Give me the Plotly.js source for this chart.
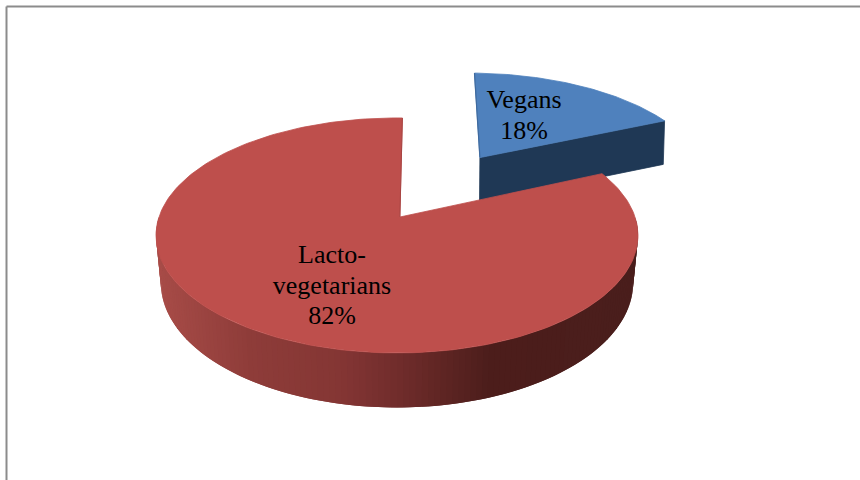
<!DOCTYPE html>
<html>
<head>
<meta charset="utf-8">
<script src="https://cdn.plot.ly/plotly-3.0.1.min.js"></script>
<style>html,body{margin:0;padding:0;background:#fff}#c{width:860px;height:480px}</style>
</head>
<body>
<div id="c"></div>
<script>
// Data
const categories = ["Vegans", "Lacto-vegetarians"];
const shares = [18, 82];
const labelLines = [["Vegans","18%"],["Lacto-","vegetarians","82%"]];
const explodeVegans = 0.68;
// Styles
const topColors = ["#4F81BD", "#BE4F4C"];
const veganSide = "#1F3855";
const redStops = [[155,"#A84C48"],[250,"#8E3C39"],[340,"#843634"],[400,"#702C2B"],[490,"#4C1D1B"],[640,"#4A1E1C"]];

// Perspective projection of the tilted pie disc to the chart axes
const X0=397, Y0=217, R=238, K=114.6, P=0.157, D=46, LOW=0.98, ROT=1.5*Math.PI/180, APEX=0.012;
const proj=(x,y,low,ls,ds)=>{const w=1-P*y;return [X0+(low?(ls||LOW):1)*R*x/w, Y0+K*y/w+(low?(ds||1)*D/w:0)];};
const rim=(a,ox,oy)=>[ox+Math.sin(a+ROT),oy-Math.cos(a+ROT)];
const total=shares.reduce((s,v)=>s+v,0);
const endVegan=2*Math.PI*shares[0]/total;
const midVegan=endVegan/2+ROT;
const ox=explodeVegans*Math.sin(midVegan), oy=-explodeVegans*Math.cos(midVegan);
const n=140;
const range=(a,b,m)=>Array.from({length:m+1},(_,i)=>a+(b-a)*i/m);
const poly=(pts,color,stroke)=>({type:"scatter",mode:stroke===false?"none":"lines",x:pts.map(p=>p[0]),y:pts.map(p=>p[1]),fill:"toself",fillcolor:color,
  line:{color:color,width:0.8},hoverinfo:"skip",showlegend:false});
const edge=(p,q,color,w)=>({type:"scatter",mode:"lines",x:[p[0],q[0]],y:[p[1],q[1]],line:{color:color,width:w},hoverinfo:"skip",showlegend:false});
const hex=c=>[1,3,5].map(i=>parseInt(c.substr(i,2),16));
const colorAt=x=>{for(let i=0;i<redStops.length-1;i++){const [a,ca]=redStops[i],[b,cb]=redStops[i+1];
  if(x<=b){const t=Math.max(0,(x-a)/(b-a)),A=hex(ca),B=hex(cb);return `rgb(${A.map((v,j)=>Math.round(v+(B[j]-v)*t)).join(",")})`;}}
  return redStops[redStops.length-1][1];};

const traces=[];
// Vegans: radial wall facing the viewer, then the top face
const vA=proj(ox,oy,false), vB=proj(...rim(endVegan,ox,oy),false), vA2=proj(ox,oy,true,0.995,1.05), vB2=proj(...rim(endVegan,ox,oy),true,0.995,1.09);
traces.push(poly([vA,vB,vB2,vA2,vA],veganSide));
const vTop=[vA].concat(range(0,endVegan,60).map(a=>proj(...rim(a,ox,oy),false)),[vA]);
traces.push(poly(vTop,topColors[0]));
traces.push(edge(vA,proj(...rim(0,ox,oy),false),"#3F6A9E",1.2));
// Lacto-vegetarians: front wall as overlapping vertical colour strips
const as=range(Math.PI/2-ROT,3*Math.PI/2-ROT,n);
for(let i=0;i<n;i++){
  const a=as[i],b=as[Math.min(i+2,n)];
  const t1=proj(...rim(a,0,0),false),t2=proj(...rim(b,0,0),false),l1=proj(...rim(a,0,0),true),l2=proj(...rim(b,0,0),true);
  traces.push(poly([t1,t2,l2,l1,t1],colorAt((t1[0]+proj(...rim(as[i+1],0,0),false)[0])/2),false));
}
const apex=proj(APEX,0,false);
const rTop=[apex].concat(range(endVegan,2*Math.PI,200).map(a=>proj(...rim(a,0,0),false)),[apex]);
traces.push(poly(rTop,topColors[1]));
traces.push(edge(apex,proj(...rim(2*Math.PI,0,0),false),"#A84442",1));
// Labels: one point per text line, through the axes
const labelX=[[524,524],[332,332,332]];
const labelY=[[101,132],[256,287,317]];
traces.push({type:"scatter",mode:"text",x:labelX.flat(),y:labelY.flat(),text:labelLines.flat(),textposition:"middle center",
  textfont:{family:"Liberation Serif, Times New Roman, serif",size:26,color:"#000"},hoverinfo:"skip",showlegend:false});

Plotly.newPlot("c",traces,{
  width:860,height:480,margin:{l:0,r:0,t:0,b:0},paper_bgcolor:"#fff",plot_bgcolor:"#fff",showlegend:false,
  xaxis:{range:[0,860],visible:false,fixedrange:true},
  yaxis:{range:[480,0],visible:false,fixedrange:true},
  shapes:[
    {type:"line",xref:"paper",yref:"paper",x0:6.5/860,x1:1,y0:1-6.5/480,y1:1-6.5/480,line:{color:"#8C8C8C",width:2}},
    {type:"line",xref:"paper",yref:"paper",x0:6.5/860,x1:6.5/860,y0:1-6.5/480,y1:0,line:{color:"#8C8C8C",width:2}}
  ]
},{displayModeBar:false,staticPlot:true});
</script>
</body>
</html>
